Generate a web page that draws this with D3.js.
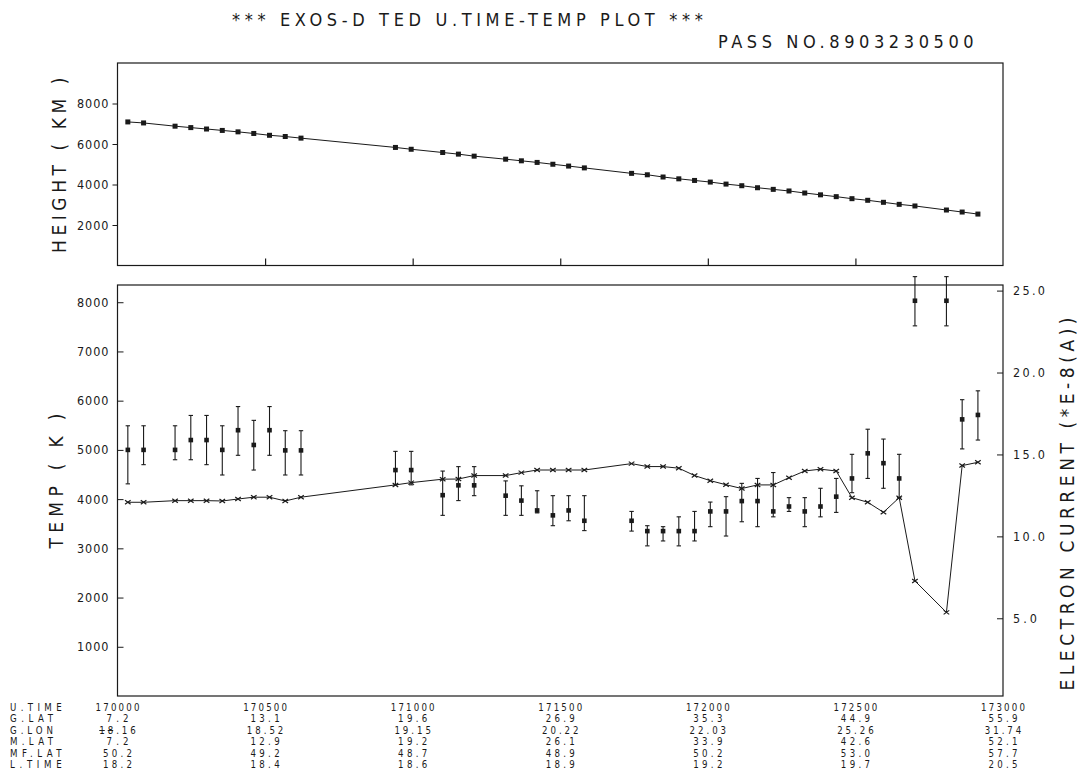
<!DOCTYPE html>
<html>
<head>
<meta charset="utf-8">
<script src="https://cdn.jsdelivr.net/npm/d3@7"></script>
<style>
  html, body { margin: 0; padding: 0; background: #fff; }
  svg { display: block; }
  text { font-family: "Liberation Sans Narrow", "DejaVu Sans Condensed", "DejaVu Sans", sans-serif; fill: #1a1a1a; }
</style>
</head>
<body>
<svg id="chart" width="1077" height="783"></svg>
<script>
// ---- sample times (U.TIME, hhmmss) ----
const uTime = ["170021","170053","170157","170229","170301","170333","170405","170437","170509","170541","170613",
  "170925","170957","171101","171133","171205","171309","171341","171413","171445","171517","171549",
  "171725","171757","171829","171901","171933","172005","172037","172109","172141","172213","172245",
  "172317","172349","172421","172453","172525","172557","172629","172701","172805","172837","172909"];

// ---- satellite height (km) ----
const heightKm = [7090,7040,6880,6810,6740,6670,6600,6520,6430,6370,6290,
  5830,5740,5580,5500,5400,5250,5170,5090,5000,4910,4820,
  4550,4480,4370,4280,4200,4120,4020,3940,3840,3760,3680,
  3580,3490,3400,3300,3220,3120,3020,2940,2740,2640,2540];

// ---- electron temperature (K) with error range ----
const tempK = [5000,5000,5000,5200,5200,5000,5400,5100,5400,4990,4990,
  4590,4590,4080,4280,4280,4070,3970,3770,3670,3770,3560,
  3560,3350,3350,3350,3350,3750,3750,3960,3960,3750,3850,
  3750,3850,4050,4420,4930,4730,4420,8030,8030,5620,5710];
const tempHigh = [5490,5490,5490,5700,5700,5490,5880,5600,5880,5390,5390,
  4970,4970,4570,4660,4660,4370,4270,4170,4070,4070,4070,
  3750,3460,3440,3640,3750,3940,4050,4320,4420,4540,4030,
  4030,4220,4420,4910,5420,5220,4910,8520,8520,6020,6200];
const tempLow = [4310,4700,4800,4800,4700,4490,4890,4590,4890,4490,4490,
  4290,4290,3670,3970,4070,3670,3670,3720,3460,3560,3360,
  3350,3050,3150,3050,3150,3440,3250,3540,3440,3640,3750,
  3440,3640,3730,4130,4420,4220,4030,7520,7520,5020,5200];

// ---- electron current (x E-8 A) ----
const currentE8 = [12.08,12.08,12.18,12.18,12.18,12.16,12.28,12.39,12.39,12.16,12.39,
  13.14,13.28,13.49,13.50,13.71,13.71,13.89,14.05,14.05,14.05,14.05,
  14.44,14.26,14.26,14.16,13.71,13.40,13.15,12.92,13.14,13.14,13.58,
  13.99,14.10,13.99,12.36,12.08,11.47,12.36,7.28,5.36,14.32,14.52];

// ---- axis ticks ----
const heightTicks = [2000,4000,6000,8000];
const tempTicks = [1000,2000,3000,4000,5000,6000,7000,8000];
const currentTicks = [5,10,15,20,25];
const timeTicks = ["170000","170500","171000","171500","172000","172500","173000"];

// ---- orbit parameters printed under each time tick ----
const rowNames = ["U.TIME","G.LAT","G.LON","M.LAT","MF.LAT","L.TIME"];
const gLat  = ["7.2","13.1","19.6","26.9","35.3","44.9","55.9"];
const gLon  = ["18.16","18.52","19.15","20.22","22.03","25.26","31.74"];
const mLat  = ["7.2","12.9","19.2","26.1","33.9","42.6","52.1"];
const mfLat = ["50.2","49.2","48.7","48.9","50.2","53.0","57.7"];
const lTime = ["18.2","18.4","18.6","18.9","19.2","19.7","20.5"];

const titleText = "*** EXOS-D TED U.TIME-TEMP PLOT ***";
const passText = "PASS NO.8903230500";

// hhmmss -> seconds after 17:00:00
const secs = s => (+s.slice(0,2) - 17) * 3600 + (+s.slice(2,4)) * 60 + (+s.slice(4,6));

const svg = d3.select("#chart");
const ink = "#1a1a1a";

// frame geometry
const L = 117.5, R = 1003;
const topT = 63, topB = 265.5;
const botT = 285, botB = 696;

const x = d3.scaleLinear().domain([0, 1800]).range([L, R]);
const yH = d3.scaleLinear().domain([0, 10000]).range([topB, topT]);
const yT = d3.scaleLinear().domain([0, 8350]).range([botB, botT]);
const yC = d3.scaleLinear().domain([0, 25]).range([700.2, 290.6]);

const pts = uTime.map((t, i) => ({
  t: secs(t), h: heightKm[i], T: tempK[i], hi: tempHigh[i], lo: tempLow[i], c: currentE8[i]
}));

// fixed-pitch text helper
function pitchText(sel, str, pitch) {
  sel.text(str).attr("textLength", str.length * pitch).attr("lengthAdjust", "spacing");
  return sel;
}

// ---------- titles ----------
pitchText(svg.append("text").attr("x", 232).attr("y", 26).attr("font-size", 18), titleText, 13.45);
pitchText(svg.append("text").attr("x", 718).attr("y", 48).attr("font-size", 18), passText, 14.2);

// ---------- top panel: height ----------
svg.append("rect").attr("x", L).attr("y", topT).attr("width", R - L).attr("height", topB - topT)
  .attr("fill", "none").attr("stroke", ink).attr("stroke-width", 1.2);

const axH = svg.append("g").attr("transform", `translate(${L},0)`)
  .call(d3.axisLeft(yH).tickValues(heightTicks).tickSize(5).tickPadding(4).tickFormat(d3.format("d")));
axH.select(".domain").remove();
axH.selectAll("line").attr("stroke", ink);
axH.selectAll("text").attr("font-size", 12.5).attr("fill", ink)
  .attr("textLength", d => String(d).length * 7.9).attr("lengthAdjust", "spacing");

const axHb = svg.append("g").attr("transform", `translate(0,${topB})`)
  .call(d3.axisBottom(x).tickValues(timeTicks.slice(1, -1).map(secs)).tickSize(-7).tickFormat(""));
axHb.select(".domain").remove();
axHb.selectAll("line").attr("stroke", ink).attr("stroke-width", 1.2);

svg.append("path").datum(pts)
  .attr("d", d3.line().x(d => x(d.t)).y(d => yH(d.h)))
  .attr("fill", "none").attr("stroke", ink).attr("stroke-width", 1);
svg.append("g").selectAll("rect").data(pts).join("rect")
  .attr("x", d => x(d.t) - 2.5).attr("y", d => yH(d.h) - 2.5)
  .attr("width", 5).attr("height", 5).attr("fill", ink);

svg.append("text")
  .attr("transform", `translate(59,${(topT + topB) / 2 + 1}) rotate(-90)`)
  .attr("text-anchor", "middle").attr("dominant-baseline", "central").attr("font-size", 19)
  .call(s => pitchText(s, "HEIGHT ( KM )", 13.5));

// ---------- bottom panel: temperature & current ----------
svg.append("rect").attr("x", L).attr("y", botT).attr("width", R - L).attr("height", botB - botT)
  .attr("fill", "none").attr("stroke", ink).attr("stroke-width", 1.2);

const axT = svg.append("g").attr("transform", `translate(${L},0)`)
  .call(d3.axisLeft(yT).tickValues(tempTicks).tickSizeInner(-6).tickSizeOuter(0).tickPadding(9).tickFormat(d3.format("d")));
axT.select(".domain").remove();
axT.selectAll("line").attr("stroke", ink);
axT.selectAll("text").attr("font-size", 12.5).attr("fill", ink)
  .attr("textLength", d => String(d).length * 7.9).attr("lengthAdjust", "spacing");

const axC = svg.append("g").attr("transform", `translate(${R},0)`)
  .call(d3.axisRight(yC).tickValues(currentTicks).tickSizeInner(-6).tickSizeOuter(0).tickPadding(10).tickFormat(d3.format(".1f")));
axC.select(".domain").remove();
axC.selectAll("line").attr("stroke", ink);
axC.selectAll("text").attr("font-size", 12.5).attr("fill", ink)
  .attr("textLength", d => d3.format(".1f")(d).length * 8).attr("lengthAdjust", "spacing");

// temperature error bars
const eb = svg.append("g").attr("stroke", ink).attr("stroke-width", 1.1);
eb.selectAll("line.v").data(pts).join("line").attr("class", "v")
  .attr("x1", d => x(d.t)).attr("x2", d => x(d.t))
  .attr("y1", d => yT(d.hi)).attr("y2", d => yT(d.lo));
eb.selectAll("line.capH").data(pts).join("line").attr("class", "capH")
  .attr("x1", d => x(d.t) - 2.2).attr("x2", d => x(d.t) + 2.2)
  .attr("y1", d => yT(d.hi)).attr("y2", d => yT(d.hi));
eb.selectAll("line.capL").data(pts).join("line").attr("class", "capL")
  .attr("x1", d => x(d.t) - 2.2).attr("x2", d => x(d.t) + 2.2)
  .attr("y1", d => yT(d.lo)).attr("y2", d => yT(d.lo));
svg.append("g").selectAll("rect").data(pts).join("rect")
  .attr("x", d => x(d.t) - 2.3).attr("y", d => yT(d.T) - 2.3)
  .attr("width", 4.6).attr("height", 4.6).attr("fill", ink);

// electron current line with cross markers
svg.append("path").datum(pts)
  .attr("d", d3.line().x(d => x(d.t)).y(d => yC(d.c)))
  .attr("fill", "none").attr("stroke", ink).attr("stroke-width", 1);
svg.append("g").selectAll("path").data(pts).join("path")
  .attr("transform", d => `translate(${x(d.t)},${yC(d.c)})`)
  .attr("d", "M-2.8,-2 L2.8,2 M-2.8,2 L2.8,-2")
  .attr("stroke", ink).attr("stroke-width", 1.2).attr("fill", "none");

svg.append("text")
  .attr("transform", `translate(56,481) rotate(-90)`)
  .attr("text-anchor", "middle").attr("dominant-baseline", "central").attr("font-size", 19)
  .call(s => pitchText(s, "TEMP ( K )", 13.5));

svg.append("text")
  .attr("transform", `translate(1067,504) rotate(-90)`)
  .attr("text-anchor", "middle").attr("dominant-baseline", "central").attr("font-size", 19)
  .call(s => pitchText(s, "ELECTRON CURRENT (*E-8(A))", 14.35));

// ---------- orbit table under the time axis ----------
const rowY = [710.5, 722, 733.5, 745, 756.5, 768];
const rows = [timeTicks, gLat, gLon, mLat, mfLat, lTime];
const tbl = svg.append("g").attr("font-size", 9.6);
rowNames.forEach((name, r) => {
  tbl.append("text").attr("x", 10).attr("y", rowY[r])
    .call(s => pitchText(s, name, 8.6));
  tbl.selectAll(null).data(rows[r]).join("text")
    .attr("x", (d, i) => x(secs(timeTicks[i])) - d.length * 7.3 / 2)
    .attr("y", rowY[r])
    .attr("textLength", d => d.length * 7.3).attr("lengthAdjust", "spacing")
    .each(function (d, i) {
      const t = d3.select(this);
      if (r === 2 && i === 0) {
        // first longitude entry carries a hand correction on its leading digits
        t.append("tspan").attr("text-decoration", "line-through").text(d.slice(0, 2));
        t.append("tspan").text(d.slice(2));
      } else {
        t.text(d);
      }
    });
});
</script>
</body>
</html>
